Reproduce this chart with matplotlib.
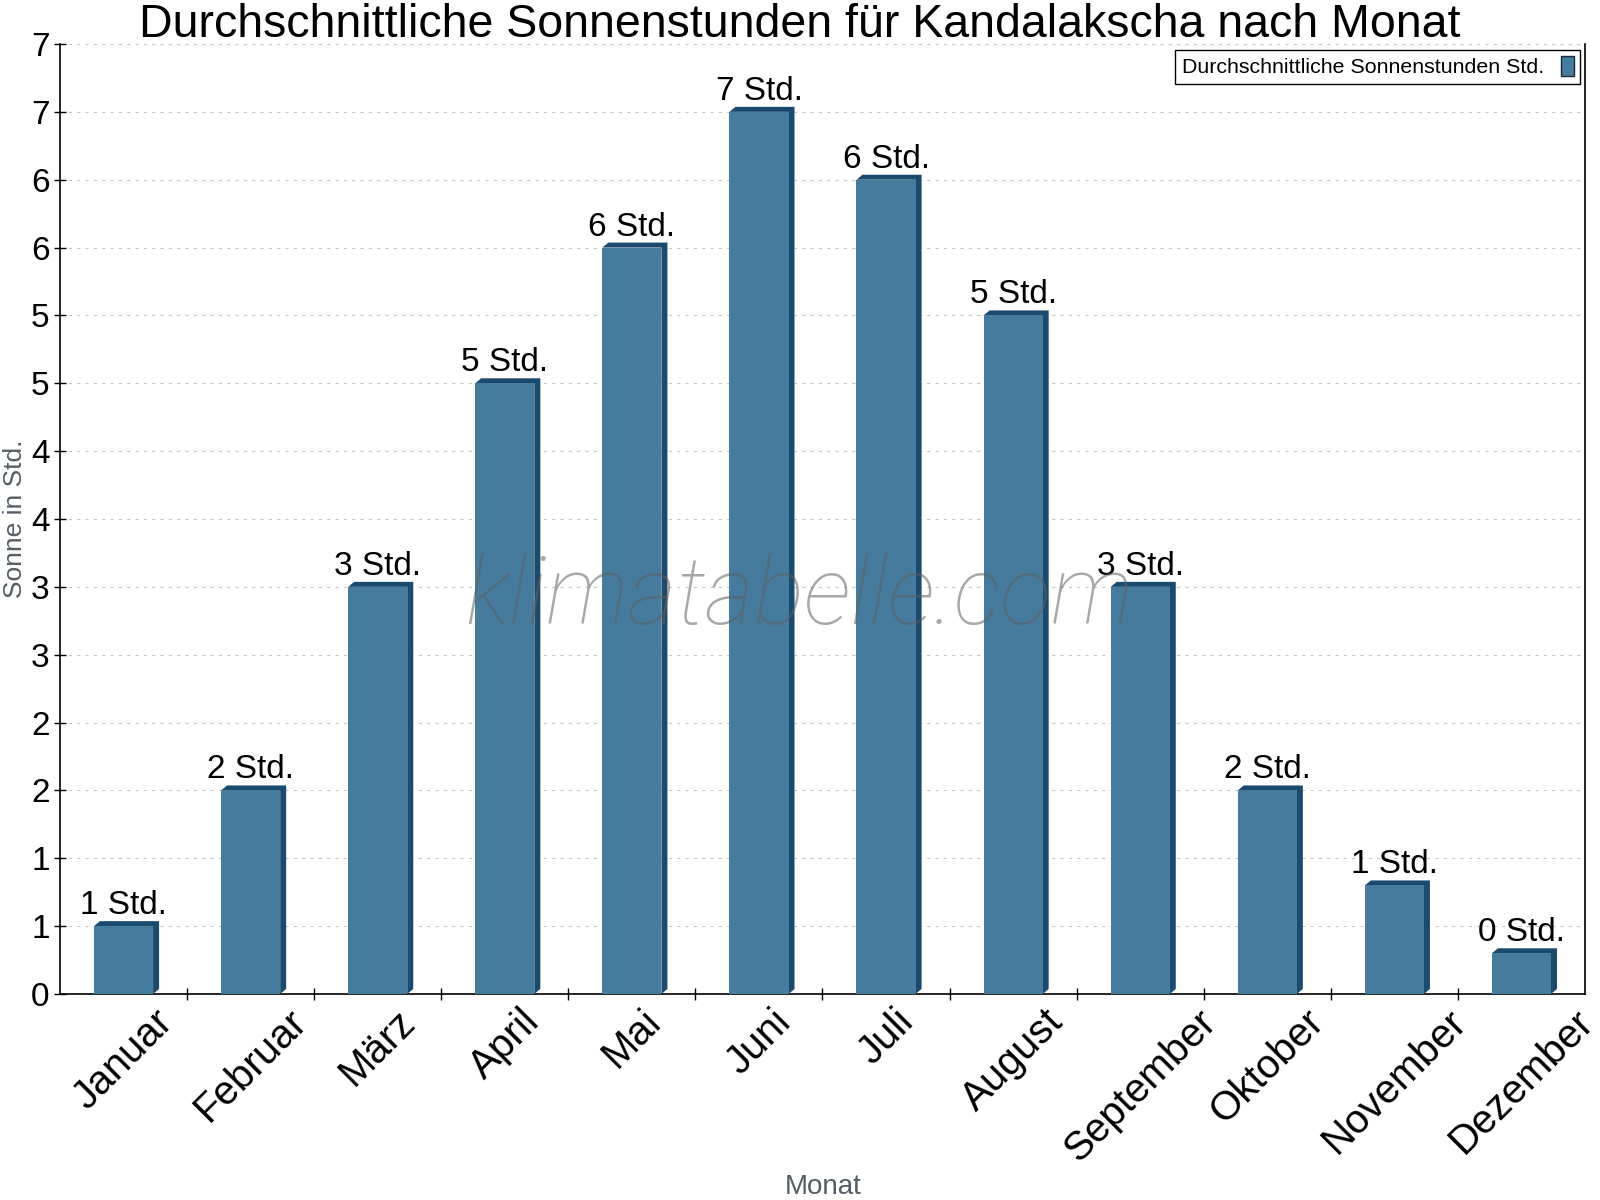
import math
import matplotlib
matplotlib.use("Agg")
import matplotlib.pyplot as plt
from matplotlib.patches import Polygon
from matplotlib.ticker import FixedLocator, FuncFormatter

plt.rcParams['font.family'] = ['Liberation Sans', 'DejaVu Sans']

months = ["Januar", "Februar", "März", "April", "Mai", "Juni", "Juli",
          "August", "September", "Oktober", "November", "Dezember"]
sun_hours = [0.5, 1.5, 3.0, 4.5, 5.5, 6.5, 6.0, 5.0, 3.0, 1.5, 0.8, 0.3]
title = "Durchschnittliche Sonnenstunden für Kandalakscha nach Monat"
series_name = "Durchschnittliche Sonnenstunden Std."
y_label = "Sonne in Std."
x_label = "Monat"
unit = "Std."

FACE = "#457b9d"
SIDE = "#1a4a6d"

W, H = 1600, 1200
fig = plt.figure(figsize=(16, 12), dpi=100)
ax = fig.add_axes([60 / W, 1 - 994 / H, (1585 - 60) / W, (994 - 44) / H])

n = len(months)
ax.set_xlim(-0.5, n - 0.5)
ax.set_ylim(0, 7)

def rnd(v):
    return int(math.floor(v + 0.5))

# bars
bw = 0.465
bars = ax.bar(range(n), sun_hours, width=bw, color=FACE, zorder=3,
              label=series_name, edgecolor="none")

# 3D depth polygons (pixel offsets converted to data units)
px_x = n / (1585 - 60)
px_y = 7 / (994 - 44)
dx, dy = 6 * px_x, 5 * px_y
for b in bars:
    x0 = b.get_x()
    x1 = x0 + b.get_width()
    y1 = b.get_height()
    poly = Polygon([(x0, y1), (x0 + dx, y1 + dy), (x1 + dx, y1 + dy),
                    (x1 + dx, dy), (x1, 0), (x1, y1)],
                   closed=True, facecolor=SIDE, edgecolor="none", zorder=2.9,
                   clip_on=False)
    ax.add_patch(poly)

# value labels
for i, v in enumerate(sun_hours):
    ax.annotate(f"{rnd(v)} {unit}", xy=(i, v), xytext=(0, 8.6),
                textcoords="offset points", ha="center", va="baseline",
                fontsize=24, color="black", zorder=5)

# y axis
yt = [k * 0.5 for k in range(15)]
ax.yaxis.set_major_locator(FixedLocator(yt))
ax.yaxis.set_major_formatter(FuncFormatter(lambda v, p: str(rnd(v))))
ax.tick_params(axis="y", direction="inout", length=9, width=1,
               labelsize=24, pad=3)

# x axis: ticks at boundaries, labels at centers
ax.set_xticks([k - 0.5 for k in range(1, n)])
ax.set_xticklabels([])
ax.set_xticks(range(n), minor=True)
ax.set_xticklabels(months, minor=True, rotation=45, ha="center", va="top",
                   fontsize=29)
ax.tick_params(axis="x", which="major", direction="inout", length=9, width=1)
ax.tick_params(axis="x", which="minor", length=0, pad=6)

ax.grid(axis="y", color="#c4c4c4", linestyle=(0, (3, 5)), linewidth=0.75,
        zorder=0)
ax.set_axisbelow(True)

for s in ["left", "bottom", "right"]:
    ax.spines[s].set_color("black")
    ax.spines[s].set_linewidth(1.2)
ax.spines["top"].set_visible(False)

# legend
leg = ax.legend(loc="upper right", bbox_to_anchor=(1580 / W, 1 - 50 / H),
                bbox_transform=fig.transFigure, fontsize=15.4,
                markerfirst=False, handlelength=0.6, handleheight=1.0,
                fancybox=False, framealpha=1, edgecolor="black",
                borderpad=0.3, handletextpad=0.8, borderaxespad=0)
leg.get_frame().set_linewidth(1.0)
for h in leg.legend_handles:
    h.set_edgecolor("#1a2a3a")
    h.set_linewidth(1.0)

# title and axis labels
fig.text(0.5, 1 - 37 / H, title, ha="center", va="baseline", fontsize=33.5)
fig.text(15 / W, 1 - 519 / H, y_label, rotation=90, ha="center",
         va="center", fontsize=19, color="#555d66")
fig.text(823 / W, 1 - 1194 / H, x_label, ha="center", va="baseline",
         fontsize=20, color="#555d66")

# watermark
fig.text(799 / W, 1 - 624 / H, "klimatabelle.com", ha="center",
         va="baseline", fontsize=68, family=["Roboto", "DejaVu Sans"],
         fontweight="light", style="italic", color="#606060", alpha=0.55,
         zorder=10)

fig.savefig("out.png", dpi=100)
